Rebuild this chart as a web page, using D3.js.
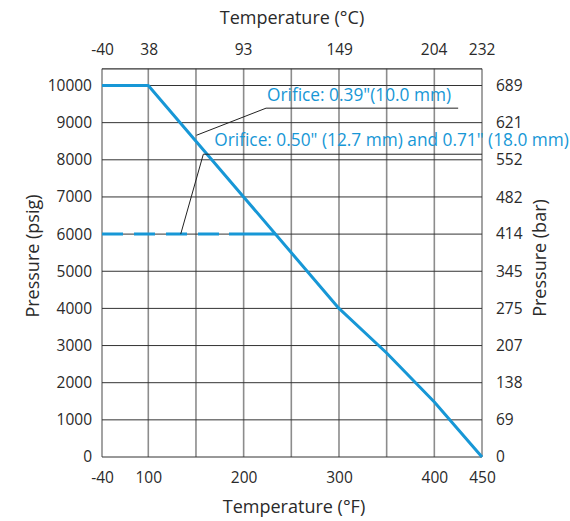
<!DOCTYPE html>
<html>
<head>
<meta charset="utf-8">
<script src="https://cdn.jsdelivr.net/npm/d3@7/dist/d3.min.js"></script>
<style>
  html, body { margin: 0; padding: 0; background: #fff; }
  svg { display: block; font-family: "Open Sans", "Noto Sans", sans-serif; }
</style>
</head>
<body>
<svg id="chart" width="570" height="521"></svg>
<script>
// ---- data ----
const fTicks = [-40, 100, 200, 300, 400, 450];           // bottom tick labels (°F)
const fGrid = [-40, 100, 150, 200, 250, 300, 350, 400, 450]; // vertical grid (°F)
const cTicks = [-40, 38, 93, 149, 204, 232];              // top tick labels (°C)
const psiTicks = [0, 1000, 2000, 3000, 4000, 5000, 6000, 7000, 8000, 9000, 10000];
const barTicks = [0, 69, 138, 207, 275, 345, 414, 482, 552, 621, 689];
// Orifice 0.39" (10.0 mm) rating curve: [°F, psig]
const curve039 = [[-40, 10000], [100, 10000], [200, 7000], [300, 4000], [350, 2800], [400, 1480], [450, 0]];
// Orifice 0.50" and 0.71" rating: flat 6000 psig until meeting the curve
const curve050 = [[-40, 6000], [233.3, 6000]];
const label039 = 'Orifice: 0.39"(10.0 mm)';
const label050 = 'Orifice: 0.50" (12.7 mm) and 0.71" (18.0 mm)';
// leader lines [°F, psig]
const leader039 = [[150.5, 8660], [223.5, 9390], [425, 9390]];
const leader050 = [[134, 6000], [157.7, 8150], [450, 8150]];

// ---- scales ----
const svg = d3.select("#chart");
const x = d3.scaleLinear().domain([-40, 100, 450]).range([102, 148.3, 482]);
const fToC = f => (f - 32) * 5 / 9;
const xC = d3.scaleLinear().domain(x.domain().map(fToC)).range(x.range());
const y = d3.scaleLinear().domain([0, 10000]).range([457, 85.5]);
const yTop = y(10450);
const psiPerBar = 14.5038;
const yBar = d3.scaleLinear().domain([0, 10000 / psiPerBar]).range(y.range());

const blue = "#1797d6";
const txt = "#2a2a2a";

// grid: vertical
svg.append("g").selectAll("line").data(fGrid).join("line")
  .attr("x1", d => x(d)).attr("x2", d => x(d))
  .attr("y1", yTop).attr("y2", y(0))
  .attr("stroke", "#8c8c8c").attr("stroke-width", 1.6);
// grid: horizontal
svg.append("g").selectAll("line").data(psiTicks).join("line")
  .attr("x1", x(-40)).attr("x2", x(450))
  .attr("y1", d => y(d)).attr("y2", d => y(d))
  .attr("stroke", "#333").attr("stroke-width", 1);
// top border
svg.append("line").attr("x1", x(-40)).attr("x2", x(450)).attr("y1", yTop).attr("y2", yTop)
  .attr("stroke", "#333").attr("stroke-width", 1.2);

// axes
const fmtAxis = g => { g.select(".domain").remove(); g.selectAll(".tick line").remove();
  g.selectAll("text").attr("fill", txt).style("font-size", "15.5px").style("font-family", '"Open Sans", sans-serif'); };
const fmt = d => String(d);
svg.append("g").attr("transform", `translate(0,${y(0) + 9})`)
  .call(d3.axisBottom(x).tickValues(fTicks).tickFormat(fmt).tickSize(0).tickPadding(6))
  .call(fmtAxis);
svg.append("g").attr("transform", `translate(0,${yTop - 8})`)
  .call(d3.axisTop(xC).tickValues(cTicks).tickFormat(fmt).tickSize(0).tickPadding(6))
  .call(fmtAxis);
svg.append("g").attr("transform", `translate(${x(-40) - 8},0)`)
  .call(d3.axisLeft(y).tickValues(psiTicks).tickFormat(fmt).tickSize(0).tickPadding(2))
  .call(fmtAxis);
svg.append("g").attr("transform", `translate(${x(450) + 12},0)`)
  .call(d3.axisRight(yBar).tickValues(barTicks).tickFormat(fmt).tickSize(0).tickPadding(2))
  .call(fmtAxis);

// axis titles
const titleSize = "18px";
svg.append("text").attr("x", 292).attr("y", 24).attr("text-anchor", "middle")
  .attr("fill", txt).style("font-size", titleSize).text("Temperature (°C)");
svg.append("text").attr("x", 294).attr("y", 513).attr("text-anchor", "middle")
  .attr("fill", txt).style("font-size", titleSize).text("Temperature (°F)");
svg.append("text").attr("transform", "translate(39,256) rotate(-90)").attr("text-anchor", "middle")
  .attr("fill", txt).style("font-size", titleSize).text("Pressure (psig)");
svg.append("text").attr("transform", "translate(546,258) rotate(-90)").attr("text-anchor", "middle")
  .attr("fill", txt).style("font-size", titleSize).text("Pressure (bar)");

// curves
const line = d3.line().x(d => x(d[0])).y(d => y(d[1]));
svg.append("path").datum(curve050).attr("d", line)
  .attr("fill", "none").attr("stroke", blue).attr("stroke-width", 3)
  .attr("stroke-dasharray", "21,11,21,11,21,11,21,10,60");
svg.append("path").datum(curve039).attr("d", line)
  .attr("fill", "none").attr("stroke", blue).attr("stroke-width", 3).attr("stroke-linejoin", "round");

// leaders
svg.append("path").datum(leader039).attr("d", line).attr("fill", "none").attr("stroke", "#222").attr("stroke-width", 1);
svg.append("path").datum(leader050).attr("d", line).attr("fill", "none").attr("stroke", "#222").attr("stroke-width", 1);

// labels
svg.append("text").attr("x", x(leader039[1][0]) + 1).attr("y", y(leader039[1][1]) - 7)
  .attr("fill", blue).style("font-size", "17.3px").text(label039);
svg.append("text").attr("x", x(leader050[1][0]) + 11).attr("y", y(leader050[1][1]) - 8)
  .attr("fill", blue).style("font-size", "17.3px").text(label050);
</script>
</body>
</html>
